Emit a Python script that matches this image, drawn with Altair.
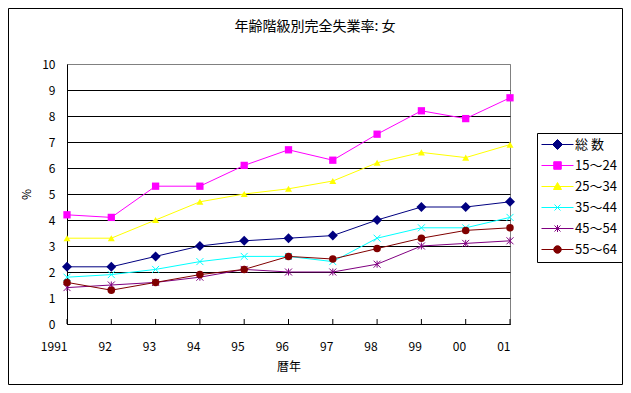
import altair as alt
import pandas as pd

years = ["1991", "92", "93", "94", "95", "96", "97", "98", "99", "00", "01"]
series = ["総 数", "15～24", "25～34", "35～44", "45～54", "55～64"]
colors = ["#000080", "#FF00FF", "#FFFF00", "#00FFFF", "#800080", "#800000"]

total = [2.2, 2.2, 2.6, 3.0, 3.2, 3.3, 3.4, 4.0, 4.5, 4.5, 4.7]
age15_24 = [4.2, 4.1, 5.3, 5.3, 6.1, 6.7, 6.3, 7.3, 8.2, 7.9, 8.7]
age25_34 = [3.3, 3.3, 4.0, 4.7, 5.0, 5.2, 5.5, 6.2, 6.6, 6.4, 6.9]
age35_44 = [1.8, 1.9, 2.1, 2.4, 2.6, 2.6, 2.4, 3.3, 3.7, 3.7, 4.1]
age45_54 = [1.4, 1.5, 1.6, 1.8, 2.1, 2.0, 2.0, 2.3, 3.0, 3.1, 3.2]
age55_64 = [1.6, 1.3, 1.6, 1.9, 2.1, 2.6, 2.5, 2.9, 3.3, 3.6, 3.7]

values = [total, age15_24, age25_34, age35_44, age45_54, age55_64]

rows = []
for s, vals in zip(series, values):
    for y, v in zip(years, vals):
        rows.append({"year": y, "series": s, "key": s, "value": v})
df = pd.DataFrame(rows)

FONT = "Noto Sans CJK JP"

# plot marker styles per series
marker_shapes = ["diamond", "square", "triangle-up",
                 "M-1,-1L1,1M-1,1L1,-1",
                 "M-1,-1L1,1M-1,1L1,-1M0,-1L0,1",
                 "circle"]
marker_filled = [True, True, True, False, False, True]
marker_sizes = [100, 53, 49, 49, 49, 56]

# legend symbols: line segment through the marker
LINE = "M-3.2,0H3.2"
legend_paths = [
    LINE + "M-1,0L0,-1L1,0L0,1Z",
    LINE + "M-0.75,-0.75H0.75V0.75H-0.75Z",
    LINE + "M0,-0.8L0.8,0.6L-0.8,0.6Z",
    LINE + "M-0.6,-0.6L0.6,0.6M-0.6,0.6L0.6,-0.6",
    LINE + "M-0.6,-0.6L0.6,0.6M-0.6,0.6L0.6,-0.6M0,-0.7L0,0.7",
    LINE + "M-0.75,0A0.75,0.75,0,1,0,0.75,0A0.75,0.75,0,1,0,-0.75,0Z",
]

x_enc = alt.X("year:O", sort=years,
              scale=alt.Scale(type="point", padding=0),
              axis=alt.Axis(title="暦年", labelAngle=0, ticks=False, tickSize=0,
                            labelPadding=22, grid=False, domainColor="black",
                            titleY=42, titleBaseline="middle", titleFontWeight="normal"))
y_enc = alt.Y("value:Q",
              scale=alt.Scale(domain=[0, 10], nice=False),
              axis=alt.Axis(title="%", values=list(range(0, 11)), ticks=False, tickSize=0,
                            labelPadding=12, domainColor="black",
                            gridColor={"condition": {"test": "datum.value === 10", "value": "#808080"},
                                       "value": "black"},
                            gridOpacity=1, gridWidth=1,
                            titleX=-41, titleY=130, titleBaseline="middle",
                            titleFontWeight="normal"))

color_enc = alt.Color("series:N", sort=series, scale=alt.Scale(range=colors), legend=None)

base = alt.Chart(df)

lines = base.mark_line(strokeWidth=1).encode(x=x_enc, y=y_enc, color=color_enc)

point_layers = []
for s, shp, filled, size in zip(series, marker_shapes, marker_filled, marker_sizes):
    point_layers.append(
        base.transform_filter(alt.datum.series == s).mark_point(
            shape=shp, filled=filled, size=size, strokeWidth=1, opacity=1
        ).encode(x=x_enc, y=y_enc, color=color_enc)
    )

legend = alt.Legend(title=None, orient="none", legendX=470, legendY=69,
                    strokeColor="black", fillColor="white", padding=5,
                    cornerRadius=0, rowPadding=7, symbolOffset=9, labelOffset=11,
                    labelFont=FONT, labelFontSize=13, labelColor="black",
                    symbolStrokeWidth=1, symbolOpacity=1)

legend_layer = base.mark_point(filled=True, opacity=0, size=81, strokeWidth=1).encode(
    x=x_enc, y=y_enc,
    fill=alt.Fill("key:N", scale=alt.Scale(domain=series, range=colors), legend=legend),
    stroke=alt.Stroke("key:N", scale=alt.Scale(domain=series, range=colors), legend=legend),
    shape=alt.Shape("key:N", scale=alt.Scale(domain=series, range=legend_paths), legend=legend),
)

# inward x ticks
ticks = alt.Chart(pd.DataFrame({"year": years})).mark_rule(color="black", strokeWidth=1).encode(
    x=alt.X("year:O", sort=years, scale=alt.Scale(type="point", padding=0)),
    y=alt.value(255), y2=alt.value(260),
)

# outer chart frame
frame = alt.Chart(alt.Data(values=[{}])).mark_rect(
    fill="transparent", stroke="black", strokeWidth=1
).encode(
    x=alt.value(-58.5), x2=alt.value(555.5), y=alt.value(-55.5), y2=alt.value(320.5)
)

chart = alt.layer(frame, ticks, lines, *point_layers, legend_layer).properties(
    width=443, height=260,
    autosize=alt.AutoSizeParams(type="none"),
    padding={"left": 59, "top": 56, "right": 113, "bottom": 61},
    title=alt.TitleParams("年齢階級別完全失業率: 女", font=FONT, fontSize=14, fontWeight="normal",
                          color="black", anchor="middle", frame="group", dx=26.5, dy=26, offset=0),
).configure(
    font=FONT,
).configure_view(
    stroke="#808080", strokeWidth=1
).configure_axis(
    labelFont=FONT, labelFontSize=12, labelColor="black",
    titleFont=FONT, titleFontSize=12, titleColor="black",
)

chart.save("out.html", embed_options={"renderer": "svg", "actions": False})
